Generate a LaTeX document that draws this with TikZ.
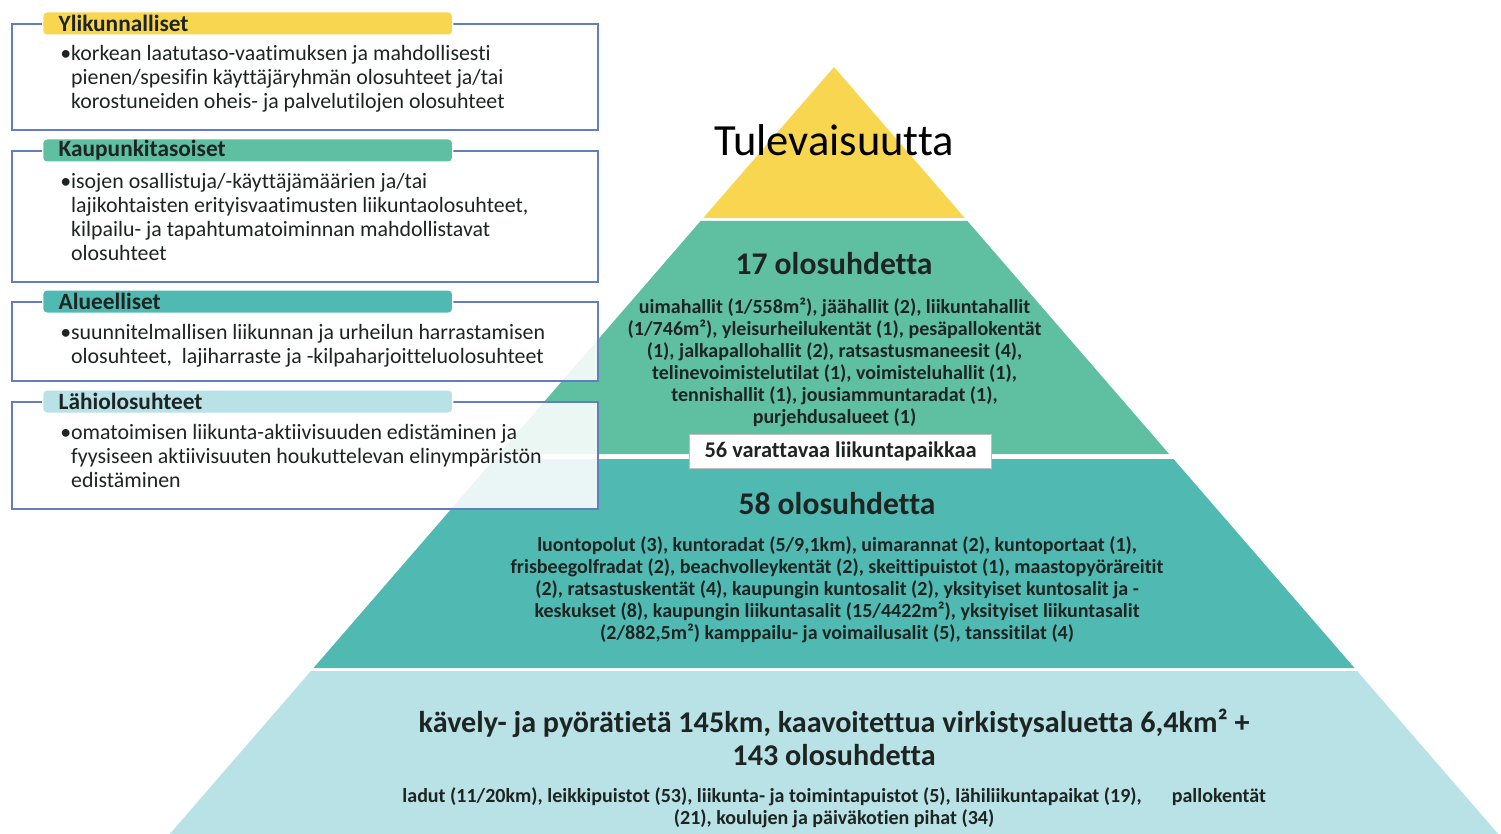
\documentclass[tikz,border=0pt]{standalone}
\usepackage{fontspec}
\setmainfont{Carlito}[Ligatures=CommonOff]
\usepackage{tikz}
\usetikzlibrary{positioning}

\definecolor{gold}{RGB}{249,214,80}
\definecolor{mint}{RGB}{94,192,160}
\definecolor{lagoon}{RGB}{80,186,178}
\definecolor{icy}{RGB}{184,226,230}
\definecolor{frame}{RGB}{100,125,190}
\definecolor{ink}{RGB}{30,36,34}

\begin{document}
\begin{tikzpicture}[x=0.75pt, y=-0.75pt]
% Styles
\tikzstyle{infobox} = [draw=frame, line width=1.2pt, fill=white, fill opacity=0.88]
\tikzstyle{tag} = [anchor=west, rounded corners=3pt, draw=white, line width=1pt, minimum height=17.5pt, inner xsep=12pt, inner ysep=0pt, text width=283.5pt, align=left, font=\fontsize{17.5}{20}\selectfont\bfseries, text=ink]
\tikzstyle{bodytext} = [anchor=north west, inner sep=0pt, align=left, font=\fontsize{16.4}{18}\selectfont, text=ink]
\tikzstyle{levelhead} = [inner sep=0pt, align=center, font=\fontsize{23.7}{26}\selectfont\bfseries, text=ink]
\tikzstyle{levelbody} = [inner sep=0pt, align=center, font=\fontsize{15}{16.5}\selectfont\bfseries, text=ink]

\useasboundingbox (0,0) rectangle (1501,834);
\clip (0,0) rectangle (1501,834);

% pyramid
\fill[gold] (834,67) -- (964.8,218) -- (703.2,218) -- cycle;
\fill[mint] (700.6,221) -- (967.4,221) -- (1169.1,454) -- (498.9,454) -- cycle;
\fill[lagoon] (494.5,459) -- (1173.5,459) -- (1354.5,668) -- (313.5,668) -- cycle;
\fill[icy] (310.9,671) -- (1357.1,671) -- (1498.2,834) -- (169.8,834) -- cycle;

\node (future) at (834,140) {\fontsize{33.4}{36}\selectfont Tulevaisuutta};

\node[levelhead] (city_head) at (834,264) {17 olosuhdetta};
\node[levelbody] (city_list) at (834.5,362) {uimahallit (1/558m²), jäähallit (2), liikuntahallit\\
(1/746m²), yleisurheilukentät (1), pesäpallokentät\\
(1), jalkapallohallit (2), ratsastusmaneesit (4),\\
telinevoimistelutilat (1), voimisteluhallit (1),\\
tennishallit (1), jousiammuntaradat (1),\\
purjehdusalueet (1)};
\node[draw=black!25, fill=white, line width=0.8pt, minimum width=227pt, minimum height=26pt, inner sep=0pt, font=\fontsize{16.8}{19}\selectfont\bfseries, text=ink] (booked) at (840.5,451.5) {56 varattavaa liikuntapaikkaa};

\node[levelhead] (area_head) at (837,504) {58 olosuhdetta};
\node[levelbody] (area_list) at (837,590) {luontopolut (3), kuntoradat (5/9,1km), uimarannat (2), kuntoportaat (1),\\
frisbeegolfradat (2), beachvolleykentät (2), skeittipuistot (1), maastopyöräreitit\\
(2), ratsastuskentät (4), kaupungin kuntosalit (2), yksityiset kuntosalit ja -\\
keskukset (8), kaupungin liikuntasalit (15/4422m²), yksityiset liikuntasalit\\
(2/882,5m²) kamppailu- ja voimailusalit (5), tanssitilat (4)};

\node[levelhead, font=\fontsize{22.6}{24.75}\selectfont\bfseries] (local_head) at (834,737) {kävely- ja pyörätietä 145km, kaavoitettua virkistysaluetta 6,4km² +\\
143 olosuhdetta};
\node[levelbody] (local_list) at (834,808) {ladut (11/20km), leikkipuistot (53), liikunta- ja toimintapuistot (5), lähiliikuntapaikat (19),\hspace{1.5em}pallokentät\\
(21), koulujen ja päiväkotien pihat (34)};

% left boxes
\draw[infobox] (12,24) rectangle (598,130);
\node[tag, fill=gold] (supra) at (42,23.5) {Ylikunnalliset};
\node[bodytext] (supra_txt) at (60,45.5) {•korkean laatutaso-vaatimuksen ja mahdollisesti\\
\phantom{•}pienen/spesifin käyttäjäryhmän olosuhteet ja/tai\\
\phantom{•}korostuneiden oheis- ja palvelutilojen olosuhteet};

\draw[infobox] (12,151) rectangle (598,282);
\node[tag, fill=mint] (city) at (42,150.5) {Kaupunkitasoiset};
\node[bodytext] (city_txt) at (60,173.5) {•isojen osallistuja/-käyttäjämäärien ja/tai\\
\phantom{•}lajikohtaisten erityisvaatimusten liikuntaolosuhteet,\\
\phantom{•}kilpailu- ja tapahtumatoiminnan mahdollistavat\\
\phantom{•}olosuhteet};

\draw[infobox] (12,302) rectangle (598,381);
\node[tag, fill=lagoon] (area) at (42,301.5) {Alueelliset};
\node[bodytext] (area_txt) at (60,324.5) {•suunnitelmallisen liikunnan ja urheilun harrastamisen\\
\phantom{•}olosuhteet,\ \ lajiharraste ja -kilpaharjoitteluolosuhteet};

\draw[infobox] (12,402) rectangle (598,509);
\node[tag, fill=icy] (local) at (42,401.5) {Lähiolosuhteet};
\node[bodytext] (local_txt) at (60,424.5) {•omatoimisen liikunta-aktiivisuuden edistäminen ja\\
\phantom{•}fyysiseen aktiivisuuten houkuttelevan elinympäristön\\
\phantom{•}edistäminen};

\end{tikzpicture}
\end{document}
